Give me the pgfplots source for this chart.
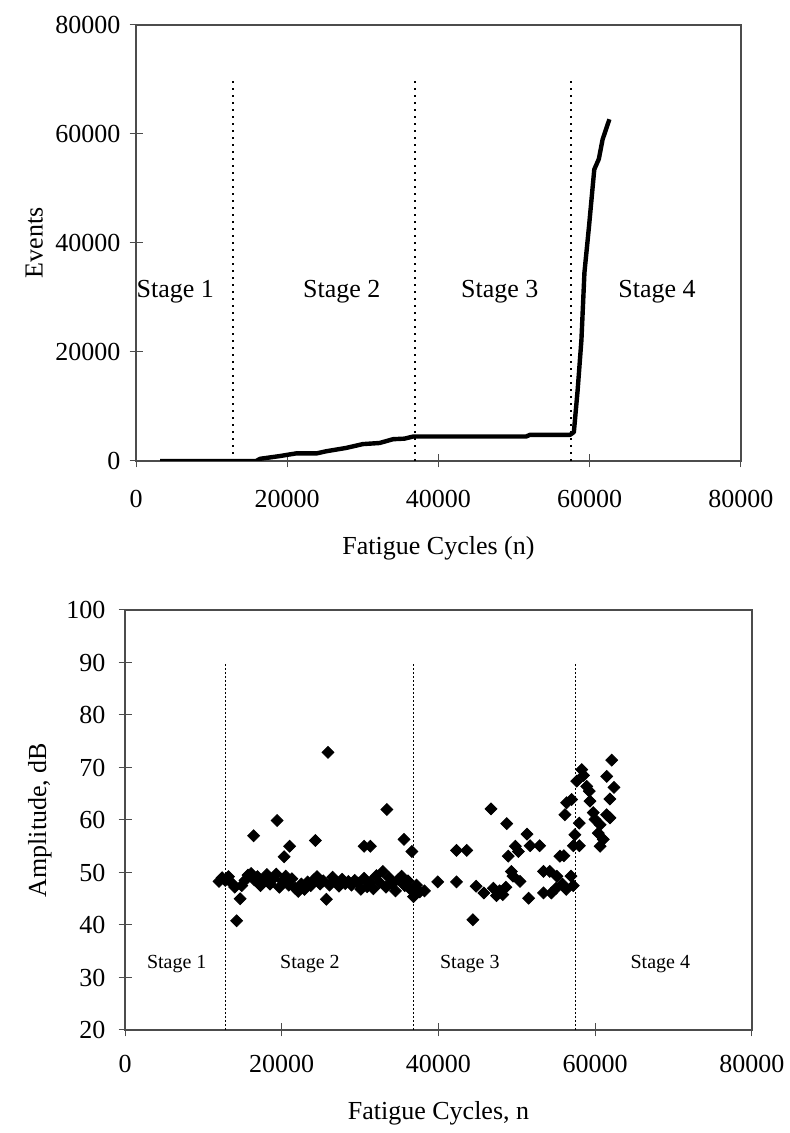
\documentclass[border=0pt]{standalone}
\usepackage{fontspec}
\setmainfont{Liberation Serif}
\usepackage{pgfplots}
\pgfplotsset{compat=1.18}
\begin{document}
\begin{tikzpicture}
\useasboundingbox (0,0) rectangle (395pt,566.5pt);
\pgfplotsset{
  common/.style={
    scale only axis,
    axis line style={black!70, line width=0.6pt},
    tick style={black!70, line width=0.5pt},
    tick align=center,
    major tick length=6.5pt,
    /pgf/number format/assume math mode=true,
    /pgf/number format/1000 sep={},
    scaled ticks=false,
    tick label style={font=\fontsize{13}{15}\selectfont},
    label style={font=\fontsize{13}{15}\selectfont},
    xtick pos=bottom, ytick pos=left,
  },
  stagetop/.style={black, line width=0.8pt, dash pattern=on 0.8pt off 2.7pt},
  stagebot/.style={black, line width=0.7pt, dash pattern=on 0.9pt off 1.1pt},
}
% ---------------- top chart ----------------
\begin{axis}[common,
  at={(68pt,336pt)}, anchor=south west,
  width=302.5pt, height=218pt,
  xmin=0, xmax=80000, ymin=0, ymax=80000,
  xtick={0,20000,40000,60000,80000},
  ytick={0,20000,40000,60000,80000},
  xticklabel style={yshift=-8pt},
  yticklabel style={xshift=-1pt},
  xlabel={Fatigue Cycles (n)}, ylabel={Events},
  xlabel style={at={(axis description cs:0.5,-0.1995)}, anchor=center},
  ylabel style={at={(axis description cs:-0.168,0.5)}, anchor=center},
]
\addplot[black, line width=2.2pt, line join=round] coordinates {
(3200,0) (15900,0) (16400,400) (19000,900) (21200,1400) (23900,1400)
(25200,1800) (27800,2400) (30000,3100) (32200,3300) (34000,4000)
(35500,4100) (36700,4500) (51600,4500) (52100,4800) (57400,4800)
(57900,5300) (58400,13000) (58900,22200) (59300,34600) (59900,43000)
(60600,53500) (61200,55400) (61700,59000) (62600,62700)};
\addplot[stagetop] coordinates {(12800,0) (12800,70000)};
\addplot[stagetop] coordinates {(36900,0) (36900,70000)};
\addplot[stagetop] coordinates {(57500,0) (57500,70000)};
\node[font=\fontsize{13}{15}\selectfont] at (axis cs:5200,31000) {Stage 1};
\node[font=\fontsize{13}{15}\selectfont] at (axis cs:27200,31000) {Stage 2};
\node[font=\fontsize{13}{15}\selectfont] at (axis cs:48100,31000) {Stage 3};
\node[font=\fontsize{13}{15}\selectfont] at (axis cs:68900,31000) {Stage 4};
\end{axis}
% ---------------- bottom chart ----------------
\begin{axis}[common,
  at={(62.5pt,51.5pt)}, anchor=south west,
  width=313.5pt, height=210pt,
  xmin=0, xmax=80000, ymin=20, ymax=100,
  xtick={0,20000,40000,60000,80000},
  ytick={20,30,...,100},
  xticklabel style={yshift=-6pt},
  yticklabel style={xshift=-3pt},
  xlabel={Fatigue Cycles, n}, ylabel={Amplitude, dB},
  xlabel style={at={(axis description cs:0.5,-0.1976)}, anchor=center},
  ylabel style={at={(axis description cs:-0.1356,0.5)}, anchor=center},
]
\addplot[stagebot] coordinates {(12800,20) (12800,90)};
\addplot[stagebot] coordinates {(36800,20) (36800,90)};
\addplot[stagebot] coordinates {(57500,20) (57500,90)};
\addplot[only marks, mark=square*, mark size=2.1pt, mark options={rotate=45, fill=black, draw=black}] coordinates {
(12000,48.3) (12400,49.0) (12800,48.5) (13200,49.2) (13600,48.0) (14000,47.2) (14250,40.8) (14700,45.0) (14900,47.5)
(15300,48.5) (15700,49.5) (16100,49.8) (16500,48.6) (16900,49.2) (17300,47.5) (17700,48.2) (18100,49.6) (18500,47.8)
(18900,48.8) (19300,49.7) (19700,47.2) (20100,48.4) (20500,49.3) (20900,47.6) (21300,48.8) (21700,47.0) (22100,46.4)
(22500,47.8) (22900,46.8) (23300,48.2) (23700,47.5) (24100,48.6) (24500,49.2) (24900,47.8) (25300,48.4) (25700,44.9)
(26100,47.6) (26500,49.1) (26900,48.3) (27300,47.4) (27700,48.7) (28100,47.9) (28500,48.3) (28900,47.6) (29300,48.5)
(29700,48.0) (30100,46.8) (30500,48.9) (30900,47.3) (31300,48.2) (31700,46.9) (32100,49.4) (32500,48.1) (32900,50.2)
(33300,47.2) (33700,49.0) (34100,47.8) (34500,46.5) (34900,48.7) (35300,49.3) (35700,47.5) (36100,48.4) (36500,46.7)
(36800,45.4) (37200,47.6) (37600,46.3) (38200,46.5)
(16400,57.0) (19400,59.9) (20300,53.0) (21000,55.0) (24300,56.1) (25900,72.9) (30500,55.0) (31300,55.0)
(33400,62.0) (35600,56.3) (36600,54.0)
(39900,48.2) (42300,48.2) (42300,54.2) (43600,54.2) (44400,41.0) (44800,47.4) (45800,46.1) (46700,62.1)
(47000,47.0) (47400,45.6) (47800,46.5) (48200,45.8) (48600,47.2) (48700,59.3) (49800,55.0) (50200,54.0)
(48900,53.1) (51300,57.3) (51700,55.1) (52900,55.1) (49300,50.2) (49500,49.3) (50400,48.3) (51500,45.1)
(53400,50.2) (54200,50.2) (55100,49.3) (53400,46.1) (54400,46.1) (55500,53.1) (56000,53.2)
(55000,47.0) (55800,47.8) (56300,46.8) (56900,49.3) (57200,47.5)
(57200,55.1) (57400,57.2) (57970,55.1) (57970,59.4) (56140,61.0) (56350,63.3) (56990,63.9) (57630,67.4)
(58270,69.6) (58500,68.5) (58910,66.4) (59240,65.5) (59330,63.6) (59750,61.4) (59970,60.1) (60610,59.1)
(60390,57.5) (61030,56.3) (60610,55.0) (61460,61.0) (61880,60.4) (61880,64.0) (62390,66.2) (61460,68.3)
(62100,71.4)};
\node[font=\fontsize{10}{12}\selectfont] at (axis cs:6600,32.5) {Stage 1};
\node[font=\fontsize{10}{12}\selectfont] at (axis cs:23600,32.5) {Stage 2};
\node[font=\fontsize{10}{12}\selectfont] at (axis cs:44000,32.5) {Stage 3};
\node[font=\fontsize{10}{12}\selectfont] at (axis cs:68300,32.5) {Stage 4};
\end{axis}
\end{tikzpicture}
\end{document}
